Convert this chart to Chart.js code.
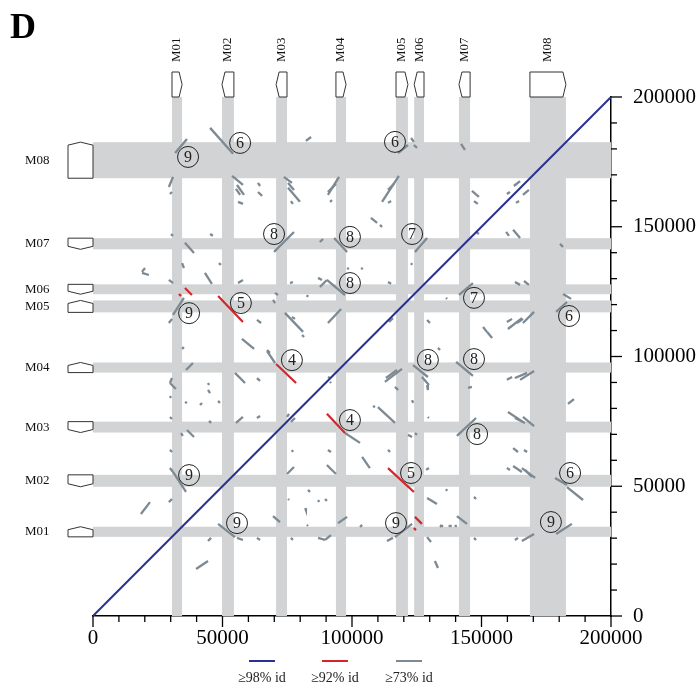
<!DOCTYPE html>
<html>
<head>
<meta charset="utf-8">
<script src="https://cdn.jsdelivr.net/npm/chart.js@4"></script>
<style>
  html, body { margin: 0; padding: 0; background: #fff; }
  canvas { display: block; }
</style>
</head>
<body>
<canvas id="dotplot" width="696" height="689"></canvas>
<script>
// genes (bp)
const genes = ["M01", "M02", "M03", "M04", "M05", "M06", "M07", "M08"];
const geneStart = [30500, 49800, 70700, 93800, 117000, 124000, 141300, 168700];
const geneEnd = [34400, 54400, 74900, 97700, 121600, 127800, 145600, 182600];
const geneStrand = [1, -1, -1, 1, 1, -1, -1, 1];

const tickLabels = [0, 50000, 100000, 150000, 200000];
const legendLabels = ["\u226598% id", "\u226592% id", "\u226573% id"];

// matches [x1, y1, x2, y2]
const blueSegs = [[0, 0, 200000, 200000]];
const redSegs = [
  [35500, 126400, 38200, 123700],
  [33200, 124100, 34000, 123300],
  [48300, 123300, 57900, 113300],
  [70700, 97100, 78400, 89800],
  [90300, 77900, 97300, 70500],
  [113900, 57000, 123900, 47800],
  [124300, 38200, 127000, 35500],
  [123900, 33900, 124700, 33100]
];
const graySegs = [
  [31700,178400,36300,183800],[45200,188100,54100,178100],[53700,169600,57900,166100],
  [55600,166100,58300,162300],[55200,164600,56800,162300],[56000,159600,57900,158800],
  [29300,165300,30900,169200],[29700,162600,30500,163400],[63700,166900,64500,165700],
  [63700,163400,65300,161900],[30100,147200,30900,146500],[45200,147200,46300,146500],
  [35500,143800,39000,139900],[34400,136000,35100,134100],[18900,132200,21600,131400],
  [18900,132600,20100,134100],[48600,136000,49400,135300],[43200,132200,45900,128000],
  [82200,183100,84200,184600],[117800,178400,121600,181500],[122800,184200,123900,182700],
  [123900,181500,125100,180400],[73700,169200,76800,166900],[75300,166900,77600,164200],
  [75300,165000,79900,159600],[76400,159900,77200,158800],[90700,162300,95000,169200],
  [90700,163400,93800,166500],[91500,159600,92300,160300],[111600,159600,118100,169600],
  [113900,164200,116200,166500],[113900,159200,115100,159900],[107300,153400,109700,151500],
  [110800,150700,111600,149900],[69900,140300,77600,148000],[87600,144100,88800,145300],
  [93100,145700,98100,140300],[124300,140300,129000,145700],[98100,133700,98800,134100],
  [103500,133700,104200,134100],[122800,136000,123200,135300],[142100,181900,143600,179600],
  [146300,163800,149000,161500],[147100,159900,148600,158800],[159800,162600,161000,163400],
  [162500,165700,164900,167600],[163300,159200,164500,159900],[166000,162300,168300,164200],
  [147900,148000,149000,147200],[159500,148000,160600,146500],[162200,148800,164900,145700],
  [180300,143400,181500,142200],[29300,129500,30900,128300],[56000,128300,57900,129500],
  [30900,116000,35100,122600],[29300,112900,30500,114500],[63300,114100,64900,112900],
  [57500,106800,62200,102900],[67200,102500,68300,101400],[34400,102900,35100,103700],
  [35900,94800,38600,97500],[30500,91700,29700,89800],[29700,89800,32000,87500],
  [54800,93700,58700,89800],[63300,91700,64500,90600],[44400,89800,44800,89000],
  [44400,87100,45200,85900],[29700,84800,30100,84000],[35500,82500,36300,82100],
  [41300,81300,42100,82100],[48300,82900,49000,82100],[29700,76700,30500,75900],
  [44800,75200,45600,74400],[55200,74400,57900,76700],[63300,76300,64500,77100],
  [36300,71700,39000,69000],[34000,70500,34700,69400],[86900,130300,88400,129500],
  [87600,126800,90300,129500],[90300,129500,97300,123700],[76100,128300,77200,128700],
  [113900,128700,115100,128000],[70300,124500,71400,123700],[69500,121800,70300,120600],
  [83000,123700,82600,122900],[74100,116800,81100,109500],[76800,115200,78000,114500],
  [80700,108300,81500,107500],[90700,112900,95800,118300],[114300,113300,115800,114800],
  [129000,114100,130100,112900],[67200,102100,70300,97500],[90700,92100,91500,91700],
  [91500,90200,91900,89800],[112700,90200,119300,95200],[113100,91700,117400,94800],
  [116600,88300,117800,87100],[123600,96700,129300,92100],[127000,92100,129700,89000],
  [129000,89000,129300,87100],[133200,103300,134000,102500],[108100,80900,108900,80500],
  [110000,80500,116600,74400],[123200,83200,123600,82100],[129300,76700,129700,76300],
  [74900,76700,75700,77900],[76400,74800,78000,76300],[97300,70500,103100,66700],
  [121600,69800,123200,69000],[124300,70500,125100,69800],[141300,123700,146700,128300],
  [136300,122600,136700,122200],[162900,128700,164900,127600],[166400,129100,168300,127600],
  [181500,124100,184600,122200],[178800,117200,183000,121000],[160200,110600,165600,114800],
  [163700,112900,166000,114500],[166000,112900,170300,117200],[159800,113300,161800,114500],
  [150600,111400,152100,109500],[152100,109500,154100,107100],[140200,97900,146700,92500],
  [144800,87900,146300,88300],[159800,91000,161800,92100],[162900,91700,167600,93700],
  [164900,91000,170300,94400],[183400,81700,185700,83600],[160200,78600,166000,74800],
  [162900,76300,166800,74400],[166000,76700,170300,73200],[140500,69400,147900,76300],
  [162200,64700,164100,63200],[166400,64000,167600,63200],[29700,64000,30500,63200],
  [29700,57000,30900,55500],[30900,55500,35900,47800],[18500,39300,22000,43900],
  [29300,43900,30500,45100],[48300,35500,54800,30400],[55600,30100,57900,29300],
  [63300,30100,64500,29300],[44400,28900,45600,30100],[39800,18100,44400,21200],
  [76800,64000,77200,63200],[90700,64000,91900,63200],[74900,54700,77600,57400],
  [90300,58200,93800,54700],[103900,61300,106900,57000],[113900,64000,114700,63200],
  [128600,56300,129700,57000],[83000,48600,83800,47800],[129000,45500,132800,43200],
  [75300,45100,75700,44700],[86900,44700,87300,43900],[89600,45100,90300,44300],
  [81900,41600,82200,40800],[69500,38500,72200,36200],[94600,35800,98100,38200],
  [82600,35100,83000,34700],[103100,34300,103900,35100],[116600,30400,123200,35500],
  [113500,28900,115800,30100],[86900,30100,89600,29300],[89600,29300,91900,31200],
  [76400,30100,77200,29300],[129000,30400,130500,28500],[134000,34300,134700,35100],
  [132000,21200,133200,18500],[159800,57000,161000,56300],[162200,57800,165600,55500],
  [165600,57000,170700,53200],[166800,56300,169500,53600],[178400,53200,183000,50500],
  [183000,49700,189200,44700],[136300,48900,136700,48200],[147100,45900,147900,45100],
  [140500,38500,144400,35500],[134000,34700,135200,34700],[137300,34700,138500,34700],
  [139600,34700,140500,34700],[178800,31600,184900,35500],[162900,29300,164100,30100],
  [165600,28900,170300,31600],[147100,30100,147900,29300]
];

// circled block numbers
const blockLabels = ["9","6","6","8","8","7","8","5","9","7","6","4","8","8","4","8","9","5","6","9","9","9"];
const blockX = [36700,56800,116600,69900,99200,123200,99200,57100,37100,147100,183800,76800,129300,147100,99200,148300,37100,122800,184200,55600,117000,176800];
const blockY = [176900,182300,182700,147200,146100,147200,128300,120600,116700,122600,115600,98600,98700,99000,75500,70100,54300,55100,55100,35800,35800,36200];

const SERIF = '"Liberation Serif", "Times New Roman", serif';
const BLUE = "#2b3192", RED = "#d3262b", GRAY = "#7d8a93", BAND = "#d1d3d4";

function segSet(s, color, width, order) {
  return {
    data: [{ x: s[0], y: s[1] }, { x: s[2], y: s[3] }],
    borderColor: color,
    borderWidth: width,
    showLine: true,
    pointRadius: 0,
    borderCapStyle: "butt",
    order: order
  };
}

const datasets = []
  .concat(graySegs.map(s => segSet(s, GRAY, 2.3, 3)))
  .concat(redSegs.map(s => segSet(s, RED, 2.2, 2)))
  .concat(blueSegs.map(s => segSet(s, BLUE, 2, 1)));

const decor = {
  id: "decor",
  beforeDatasetsDraw(chart) {
    const { ctx, chartArea: a, scales: { x, y } } = chart;
    ctx.save();
    ctx.fillStyle = BAND;
    geneStart.forEach((s, i) => {
      const x1 = x.getPixelForValue(s), x2 = x.getPixelForValue(geneEnd[i]);
      ctx.fillRect(x1, a.top, x2 - x1, a.bottom - a.top);
      const y1 = y.getPixelForValue(geneEnd[i]), y2 = y.getPixelForValue(s);
      ctx.fillRect(a.left, y1, a.right - a.left, y2 - y1);
    });
    ctx.restore();
  },
  afterDatasetsDraw(chart) {
    const { ctx, scales: { x, y } } = chart;
    ctx.save();
    ctx.strokeStyle = "#222";
    ctx.lineWidth = 1;
    ctx.fillStyle = "#222";
    ctx.font = "16px " + SERIF;
    ctx.textAlign = "center";
    ctx.textBaseline = "middle";
    blockLabels.forEach((t, i) => {
      const px = x.getPixelForValue(blockX[i]), py = y.getPixelForValue(blockY[i]);
      ctx.beginPath();
      ctx.arc(px, py, 10.5, 0, Math.PI * 2);
      ctx.stroke();
      ctx.fillText(t, px, py + 1);
    });
    ctx.restore();
  },
  afterDraw(chart) {
    const { ctx, chartArea: a, scales: { x, y } } = chart;
    ctx.save();
    // tick marks
    ctx.strokeStyle = "#000";
    ctx.lineWidth = 1.3;
    for (let v = 0; v <= 200000; v += 10000) {
      const len = v % 50000 === 0 ? 11 : 6;
      const px = x.getPixelForValue(v);
      ctx.beginPath();
      ctx.moveTo(px, a.bottom);
      ctx.lineTo(px, a.bottom + len);
      ctx.stroke();
      const py = y.getPixelForValue(v);
      ctx.beginPath();
      ctx.moveTo(a.right, py);
      ctx.lineTo(a.right + len, py);
      ctx.stroke();
    }
    // gene boxes, top and left
    ctx.strokeStyle = "#333";
    ctx.lineWidth = 1;
    ctx.fillStyle = "#fff";
    const d = 3;
    genes.forEach((g, i) => {
      const x1 = x.getPixelForValue(geneStart[i]), x2 = x.getPixelForValue(geneEnd[i]);
      const t = 72, b = a.top;
      const m = (t + b) / 2;
      ctx.beginPath();
      if (geneStrand[i] > 0) {
        ctx.moveTo(x1, t); ctx.lineTo(x2 - d, t); ctx.lineTo(x2, m); ctx.lineTo(x2 - d, b); ctx.lineTo(x1, b);
      } else {
        ctx.moveTo(x2, t); ctx.lineTo(x1 + d, t); ctx.lineTo(x1, m); ctx.lineTo(x1 + d, b); ctx.lineTo(x2, b);
      }
      ctx.closePath();
      ctx.fill();
      ctx.stroke();

      const yTop = y.getPixelForValue(geneEnd[i]), yBot = y.getPixelForValue(geneStart[i]);
      const l = 68, r = a.left;
      const c = (l + r) / 2;
      ctx.beginPath();
      if (geneStrand[i] > 0) {
        ctx.moveTo(l, yBot); ctx.lineTo(l, yTop + d); ctx.lineTo(c, yTop); ctx.lineTo(r, yTop + d); ctx.lineTo(r, yBot);
      } else {
        ctx.moveTo(l, yTop); ctx.lineTo(l, yBot - d); ctx.lineTo(c, yBot); ctx.lineTo(r, yBot - d); ctx.lineTo(r, yTop);
      }
      ctx.closePath();
      ctx.fill();
      ctx.stroke();
    });
    // gene names
    ctx.fillStyle = "#111";
    ctx.font = "13px " + SERIF;
    ctx.textBaseline = "middle";
    genes.forEach((g, i) => {
      const cx = x.getPixelForValue((geneStart[i] + geneEnd[i]) / 2);
      ctx.save();
      ctx.translate(cx, 62);
      ctx.rotate(-Math.PI / 2);
      ctx.textAlign = "left";
      ctx.fillText(g, 0, 0);
      ctx.restore();
      const cy = y.getPixelForValue((geneStart[i] + geneEnd[i]) / 2);
      ctx.textAlign = "left";
      ctx.fillText(g, 25, cy);
    });
    // legend
    const colors = [BLUE, RED, GRAY];
    const lx = [262, 335, 409];
    ctx.lineWidth = 2;
    ctx.font = "14px " + SERIF;
    ctx.textAlign = "center";
    legendLabels.forEach((t, i) => {
      ctx.strokeStyle = colors[i];
      ctx.beginPath();
      ctx.moveTo(lx[i] - 13, 661);
      ctx.lineTo(lx[i] + 13, 661);
      ctx.stroke();
      ctx.fillStyle = "#222";
      ctx.fillText(t, lx[i], 678);
    });
    // panel letter
    ctx.fillStyle = "#000";
    ctx.font = "bold 36px " + SERIF;
    ctx.textAlign = "left";
    ctx.textBaseline = "alphabetic";
    ctx.fillText("D", 10, 38);
    ctx.restore();
  }
};

new Chart(document.getElementById("dotplot"), {
  type: "scatter",
  data: { datasets: datasets },
  options: {
    responsive: false,
    animation: false,
    layout: { padding: { left: 93, top: 97, right: 0, bottom: 0 } },
    plugins: { legend: { display: false }, tooltip: { enabled: false } },
    scales: {
      x: {
        type: "linear",
        position: "bottom",
        min: 0,
        max: 200000,
        afterFit: s => { s.height = 73; },
        afterBuildTicks: s => { s.ticks = tickLabels.map(v => ({ value: v })); },
        grid: { display: false },
        border: { display: true, color: "#000", width: 1.5 },
        ticks: {
          maxRotation: 0,
          autoSkip: false,
          padding: 2,
          color: "#000",
          font: { family: SERIF, size: 21 },
          callback: v => String(v)
        }
      },
      y: {
        type: "linear",
        position: "right",
        min: 0,
        max: 200000,
        afterFit: s => { s.width = 85; },
        afterBuildTicks: s => { s.ticks = tickLabels.map(v => ({ value: v })); },
        grid: { display: false },
        border: { display: true, color: "#000", width: 1.5 },
        ticks: {
          autoSkip: false,
          padding: 14,
          color: "#000",
          font: { family: SERIF, size: 21 },
          callback: v => String(v)
        }
      }
    }
  },
  plugins: [decor]
});
</script>
</body>
</html>
